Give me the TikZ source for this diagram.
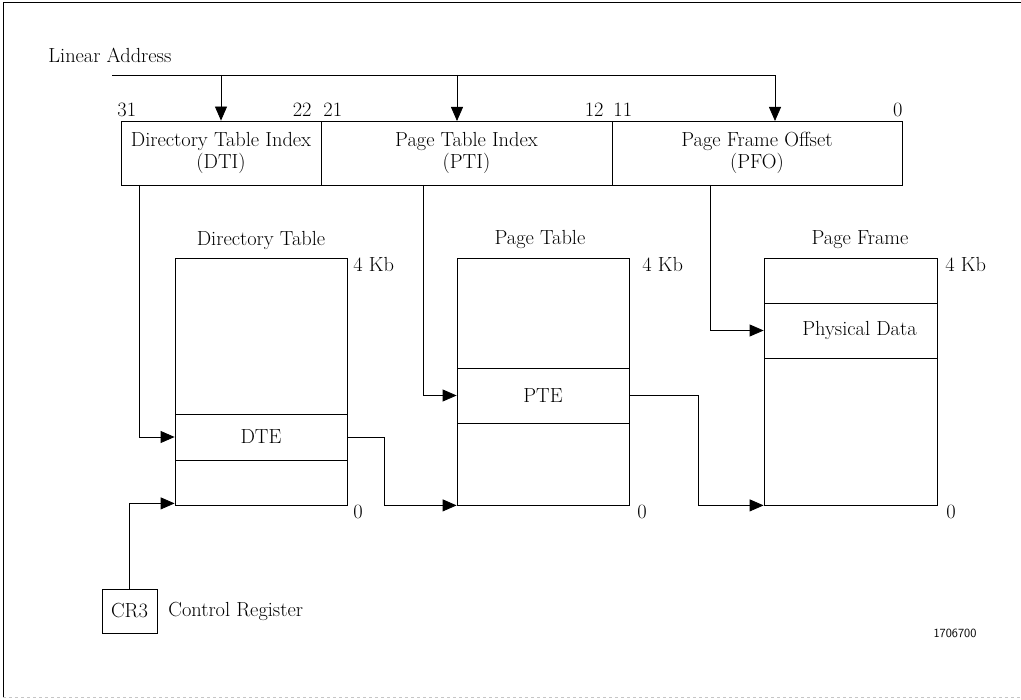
\documentclass[tikz,border=0pt]{standalone}
\usetikzlibrary{arrows.meta,calc}
\begin{document}
\begin{tikzpicture}[x=1pt,y=-1pt,line width=0.8pt,
  lbl/.style={font=\fontsize{20.4}{22}\selectfont, inner sep=0pt},
  arr/.style={-{Triangle[length=14pt,width=12pt]}},
  cell/.style={draw, inner sep=0pt, font=\fontsize{20.4}{22}\selectfont, align=center},
  frameline/.style={line width=1pt}]
\useasboundingbox (0,0) rectangle (1021,700);
% frame
\draw[frameline] (1021,3) -- (3,3) -- (3,697);
\draw[gray!45, dashed, line width=0.6pt] (3,697) -- (1021,697);

% linear address fields
\node[cell, minimum width=200, minimum height=64] (dti) at (221,153) {Directory Table Index\\(DTI)};
\node[cell, minimum width=291, minimum height=64] (pti) at (466.5,153) {Page Table Index\\(PTI)};
\node[cell, minimum width=290, minimum height=64] (pfo) at (757,153) {Page Frame Offset\\(PFO)};

\node[lbl, anchor=west] (la) at (48,55) {Linear Address};
\node[lbl, anchor=west] (b31) at (117,110) {31};
\node[lbl, anchor=east] (b22) at (312,110) {22};
\node[lbl, anchor=west] (b21) at (323,110) {21};
\node[lbl, anchor=east] (b12) at (604,110) {12};
\node[lbl, anchor=west] (b11) at (613,110) {11};
\node[lbl, anchor=east] (b0) at (903,110) {0};

% tables
\node[cell, minimum width=172, minimum height=247] (dt) at (261,381.5) {};
\node[cell, minimum width=172, minimum height=46] (dte) at (261,437) {DTE};
\node[cell, minimum width=172, minimum height=247] (pt) at (543,381.5) {};
\node[cell, minimum width=172, minimum height=55] (pte) at (543,395.5) {PTE};
\node[cell, minimum width=173, minimum height=247] (pf) at (850.5,381.5) {};
\node[cell, minimum width=173, minimum height=55] (pd) at (850.5,330.5) {\hspace{18pt}Physical Data};

\node[lbl] (dtt) at (261,240) {Directory Table};
\node[lbl] (ptt) at (540,240) {Page Table};
\node[lbl] (pft) at (860,240) {Page Frame};

\node[lbl, anchor=west] (dtk) at (353,265) {4 Kb};
\node[lbl, anchor=west] (ptk) at (642,265) {4 Kb};
\node[lbl, anchor=west] (pfk) at (945,265) {4 Kb};
\node[lbl, anchor=west] (dtz) at (353,512) {0};
\node[lbl, anchor=west] (ptz) at (637,512) {0};
\node[lbl, anchor=west] (pfz) at (946,512) {0};

% control register
\node[cell, minimum width=55, minimum height=44] (cr3) at (129.5,611) {CR3};
\node[lbl, anchor=west] (crl) at (168,611) {Control Register};

\node[font=\sffamily\fontsize{12.5}{14}\selectfont, inner sep=0pt] (fig) at (955,633) {1706700};

% connectors
\coordinate (lstart) at (112,75);
\coordinate (ptiin) at (457,121);
\coordinate (pfoin) at (775,121);
\draw[arr] (lstart) -| (pfoin);
\draw[arr] (dti.north |- lstart) -- (dti.north);
\draw[arr] (ptiin |- lstart) -- (ptiin);

\coordinate (dtiout) at (139,185);
\coordinate (ptiout) at (423,185);
\coordinate (pfoout) at (710,185);
\draw[arr] (dtiout) |- (dte.west);
\draw[arr] (ptiout) |- (pte.west);
\draw[arr] (pfoout) |- (pd.west);

\draw[arr] (dte.east) -- ++(37,0) |- (pt.south west);
\draw[arr] (pte.east) -- ++(69,0) |- (pf.south west);
\coordinate (dtcr) at ($(dt.south west)+(0,-2)$);
\draw[arr] (cr3.north) |- (dtcr);
\end{tikzpicture}
\end{document}
